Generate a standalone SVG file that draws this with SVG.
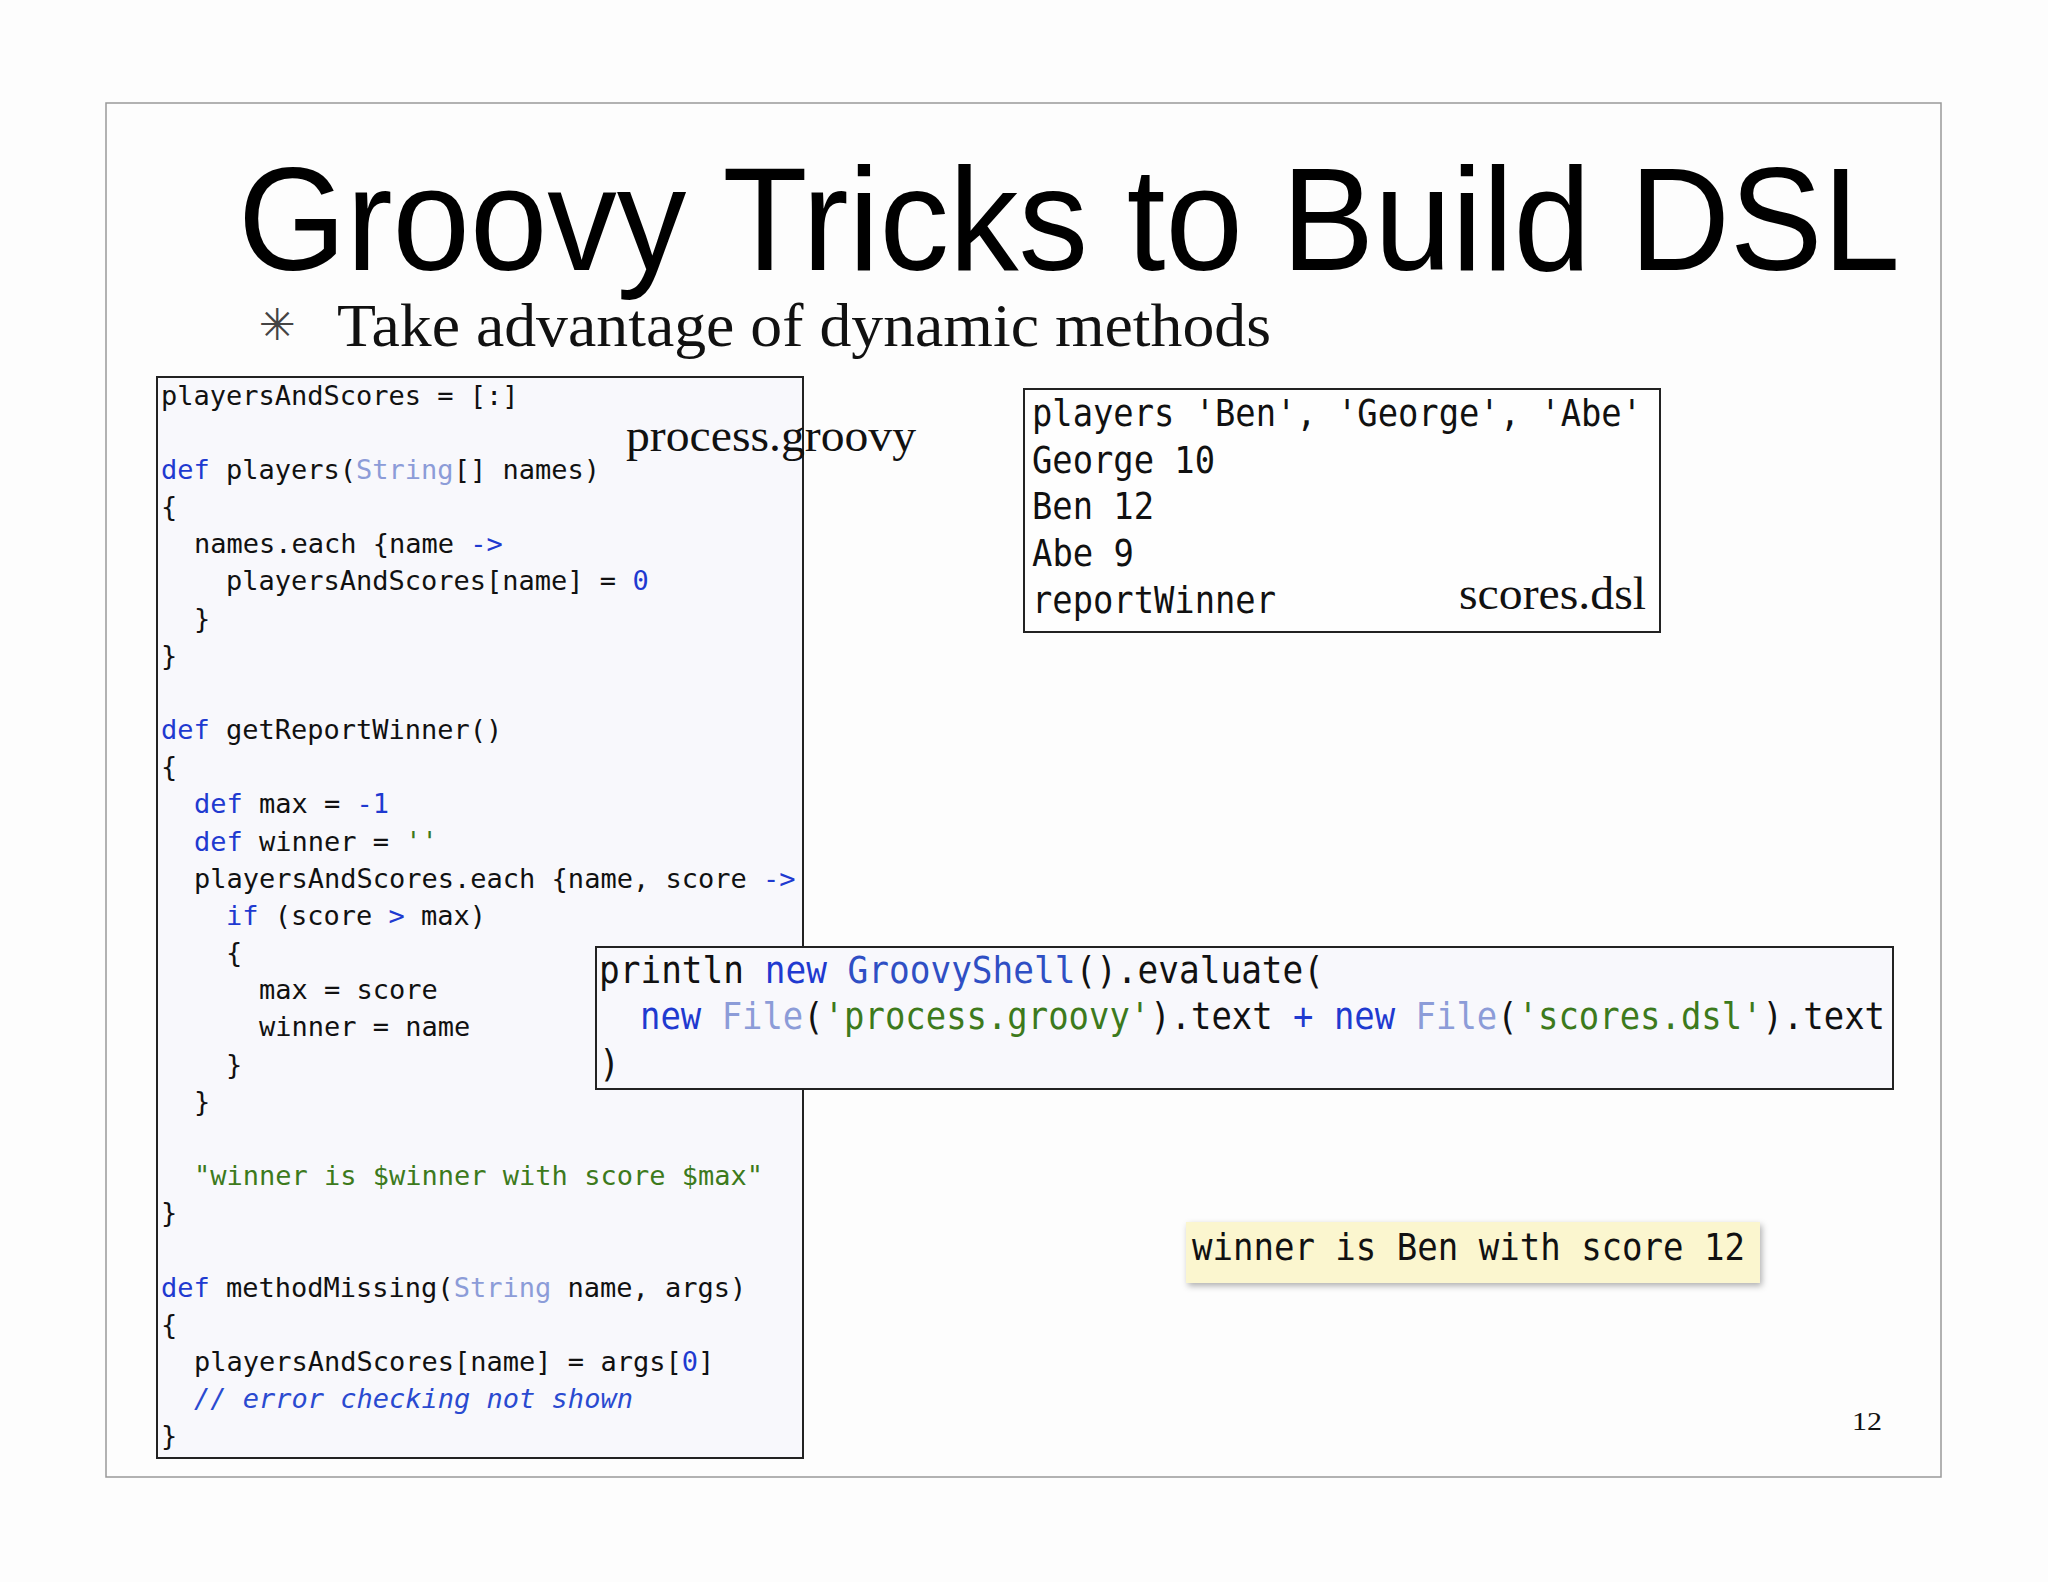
<svg xmlns="http://www.w3.org/2000/svg" width="2048" height="1582" viewBox="0 0 2048 1582">
<defs>
<filter id="sh" x="-5%" y="-20%" width="110%" height="150%"><feDropShadow dx="2" dy="3" stdDeviation="3" flood-color="#000" flood-opacity="0.3"/></filter>
</defs>
<style>
.code{font-family:"DejaVu Sans Mono",monospace;font-size:27px;fill:#111;white-space:pre}
.cond{font-family:"DejaVu Sans Mono",monospace;font-size:38px;fill:#111;white-space:pre}
.k{fill:#1f3ad0}
.t{fill:#8c9cd8}
.s{fill:#3d7a1c}
.g{fill:#2f4fc4}
.c{fill:#2a4ad0;font-style:italic}
.serif{font-family:"Liberation Serif",serif;fill:#111}
.box{stroke:#222;stroke-width:2}
</style>
<rect width="2048" height="1582" fill="#fdfdfd"/>
<rect x="106" y="103" width="1835" height="1374" fill="#fdfdfd" stroke="#999" stroke-width="1.5"/>
<text x="238" y="270" font-family="Liberation Sans, Arial, sans-serif" font-size="146" fill="#000" textLength="1662" lengthAdjust="spacingAndGlyphs">Groovy Tricks to Build DSL</text>
<text x="259" y="340" font-family="DejaVu Sans, sans-serif" font-size="44" fill="#444">✳</text>
<text x="337" y="346" class="serif" font-size="62" textLength="934" lengthAdjust="spacingAndGlyphs">Take advantage of dynamic methods</text>

<g id="process">
<rect x="157" y="377" width="646" height="1081" fill="#f8f8fc" class="box"/>
<g class="code">
<text x="161" y="405">playersAndScores = [:]</text>
<text x="161" y="479"><tspan class="k">def</tspan> players(<tspan class="t">String</tspan>[] names)</text>
<text x="161" y="516">{</text>
<text x="194" y="553">names.each {name <tspan class="k">-&gt;</tspan></text>
<text x="226" y="590">playersAndScores[name] = <tspan class="k">0</tspan></text>
<text x="194" y="628">}</text>
<text x="161" y="665">}</text>
<text x="161" y="739"><tspan class="k">def</tspan> getReportWinner()</text>
<text x="161" y="776">{</text>
<text x="194" y="813"><tspan class="k">def</tspan> max = <tspan class="k">-1</tspan></text>
<text x="194" y="851"><tspan class="k">def</tspan> winner = <tspan class="s">''</tspan></text>
<text x="194" y="888">playersAndScores.each {name, score <tspan class="k">-&gt;</tspan></text>
<text x="226" y="925"><tspan class="k">if</tspan> (score <tspan class="k">&gt;</tspan> max)</text>
<text x="226" y="962">{</text>
<text x="259" y="999">max = score</text>
<text x="259" y="1036">winner = name</text>
<text x="226" y="1074">}</text>
<text x="194" y="1111">}</text>
<text x="194" y="1185"><tspan class="s">"winner is $winner with score $max"</tspan></text>
<text x="161" y="1222">}</text>
<text x="161" y="1297"><tspan class="k">def</tspan> methodMissing(<tspan class="t">String</tspan> name, args)</text>
<text x="161" y="1334">{</text>
<text x="194" y="1371">playersAndScores[name] = args[<tspan class="k">0</tspan>]</text>
<text x="194" y="1408"><tspan class="c">// error checking not shown</tspan></text>
<text x="161" y="1445">}</text>
</g>
<text x="626" y="451" class="serif" font-size="47" textLength="290" lengthAdjust="spacingAndGlyphs">process.groovy</text>
</g>

<g id="scores">
<rect x="1024" y="389" width="636" height="243" fill="#fefefe" class="box"/>
<g class="cond">
<text x="1032" y="426" textLength="610" lengthAdjust="spacingAndGlyphs">players 'Ben', 'George', 'Abe'</text>
<text x="1032" y="473" textLength="183" lengthAdjust="spacingAndGlyphs">George 10</text>
<text x="1032" y="519" textLength="122" lengthAdjust="spacingAndGlyphs">Ben 12</text>
<text x="1032" y="566" textLength="102" lengthAdjust="spacingAndGlyphs">Abe 9</text>
<text x="1032" y="613" textLength="244" lengthAdjust="spacingAndGlyphs">reportWinner</text>
</g>
<text x="1459" y="609" class="serif" font-size="47" textLength="187" lengthAdjust="spacingAndGlyphs">scores.dsl</text>
</g>

<g id="println">
<rect x="596" y="947" width="1297" height="142" fill="#f8f8fc" class="box"/>
<g class="cond">
<text x="599" y="983" textLength="725" lengthAdjust="spacingAndGlyphs">println <tspan class="k">new</tspan> <tspan class="g">GroovyShell</tspan>().evaluate(</text>
<text x="640" y="1029" textLength="1245" lengthAdjust="spacingAndGlyphs"><tspan class="k">new</tspan> <tspan class="t">File</tspan>(<tspan class="s">'process.groovy'</tspan>).text <tspan class="k">+</tspan> <tspan class="k">new</tspan> <tspan class="t">File</tspan>(<tspan class="s">'scores.dsl'</tspan>).text</text>
<text x="599" y="1076" textLength="21" lengthAdjust="spacingAndGlyphs">)</text>
</g>
</g>

<g id="result">
<rect x="1186" y="1222" width="574" height="61" fill="#fbf6cf" filter="url(#sh)"/>
<text x="1192" y="1260" class="cond" textLength="553" lengthAdjust="spacingAndGlyphs">winner is Ben with score 12</text>
</g>

<text x="1852" y="1430" class="serif" font-size="26" textLength="30" lengthAdjust="spacingAndGlyphs">12</text>
</svg>
